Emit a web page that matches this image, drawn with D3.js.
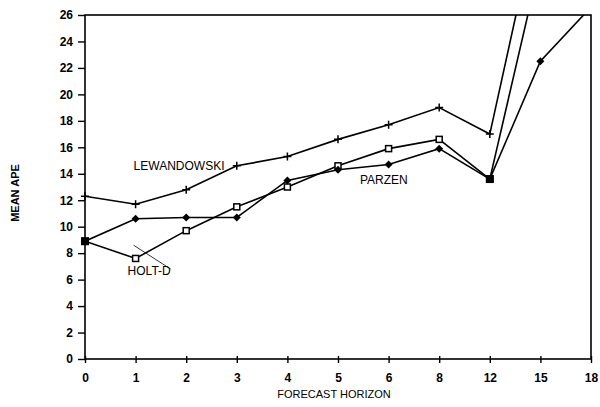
<!DOCTYPE html>
<html>
<head>
<meta charset="utf-8">
<script src="https://cdn.jsdelivr.net/npm/d3@7"></script>
<style>
  html, body { margin: 0; padding: 0; background: #fff; overflow: hidden; }
  svg { display: block; font-family: 'Liberation Sans', Arial, sans-serif; }
</style>
</head>
<body>
<svg id="chart" width="600" height="407"></svg>
<script>
// horizons (categorical, evenly spaced)
const horizons = ['0', '1', '2', '3', '4', '5', '6', '8', '12', '15', '18'];
const yTicks = [0, 2, 4, 6, 8, 10, 12, 14, 16, 18, 20, 22, 24, 26];

// mean APE values (values above 26 run off the top)
const lewandowski = [12.3, 11.7, 12.8, 14.6, 15.3, 16.6, 17.7, 19.0, 17.0, 34.4, null];
const holtD       = [8.9, 7.6, 9.7, 11.5, 13.0, 14.6, 15.9, 16.6, 13.6, 30.1, null];
const parzen      = [8.9, 10.6, 10.7, 10.7, 13.5, 14.3, 14.7, 15.9, 13.6, 22.5, 26.6];

const svg = d3.select('#chart');
const margin = { top: 15, right: 9, bottom: 48, left: 85 };
const width = 600, height = 407;
const innerWidth = width - margin.left - margin.right;
const innerHeight = height - margin.top - margin.bottom;

const g = svg.append('g')
  .attr('transform', `translate(${margin.left},${margin.top})`);

const xScale = d3.scalePoint()
  .domain(horizons)
  .range([0, innerWidth]);

const yScale = d3.scaleLinear()
  .domain([0, 26])
  .range([innerHeight, 0]);

// clip so the lines leave through the top edge
svg.append('defs').append('clipPath')
  .attr('id', 'plotclip')
  .append('rect')
  .attr('width', innerWidth)
  .attr('height', innerHeight);

// frame
g.append('rect')
  .attr('width', innerWidth)
  .attr('height', innerHeight)
  .attr('fill', 'none')
  .attr('stroke', '#000')
  .attr('stroke-width', 1.6);

// X axis
const xAxis = g.append('g')
  .attr('transform', `translate(0,${innerHeight})`)
  .call(d3.axisBottom(xScale).tickSize(4).tickPadding(10));

// Y axis
const yAxis = g.append('g')
  .call(d3.axisLeft(yScale).tickValues(yTicks).tickSize(7).tickPadding(5));

[xAxis, yAxis].forEach(a => {
  a.select('.domain').remove();
  a.selectAll('line').attr('stroke', '#000').attr('stroke-width', 1.4);
  a.selectAll('text')
    .attr('fill', '#000')
    .attr('font-size', '12px')
    .attr('font-weight', 'bold')
    .attr('font-family', "'Liberation Sans', Arial, sans-serif");
});
xAxis.selectAll('line').attr('y1', -3);

// axis titles
svg.append('text')
  .attr('x', margin.left + innerWidth / 2 - 4)
  .attr('y', 398)
  .attr('text-anchor', 'middle')
  .attr('font-size', '11px')
  .text('FORECAST HORIZON');

svg.append('text')
  .attr('transform', 'translate(19,193) rotate(-90)')
  .attr('text-anchor', 'middle')
  .attr('font-size', '11px')
  .attr('font-weight', 'bold')
  .text('MEAN APE');

const line = d3.line()
  .defined(d => d.v !== null)
  .x(d => xScale(d.h))
  .y(d => yScale(d.v));

const toPoints = vals => horizons.map((h, i) => ({ h, v: vals[i] }));

const series = [
  { name: 'LEWANDOWSKI', values: lewandowski, marker: 'plus' },
  { name: 'HOLT-D', values: holtD, marker: 'square' },
  { name: 'PARZEN', values: parzen, marker: 'diamond' }
];

const plot = g.append('g').attr('clip-path', 'url(#plotclip)');
const marks = g.append('g');

series.forEach(s => {
  const pts = toPoints(s.values);
  plot.append('path')
    .datum(pts)
    .attr('fill', 'none')
    .attr('stroke', '#000')
    .attr('stroke-width', 1.6)
    .attr('d', line);

  const visible = pts.filter(d => d.v !== null && d.v <= 26);
  const m = marks.selectAll(null)
    .data(visible)
    .enter()
    .append('g')
    .attr('transform', d => `translate(${xScale(d.h)},${yScale(d.v)})`);

  if (s.marker === 'plus') {
    m.append('path')
      .attr('d', 'M-4,0H4M0,-4V4')
      .attr('stroke', '#000')
      .attr('stroke-width', 1.5);
  } else if (s.marker === 'square') {
    m.append('rect')
      .attr('x', -3).attr('y', -3)
      .attr('width', 6).attr('height', 6)
      .attr('fill', '#fff')
      .attr('stroke', '#000')
      .attr('stroke-width', 1.5);
  } else {
    m.append('path')
      .attr('d', 'M0,-4L4,0L0,4L-4,0Z')
      .attr('fill', '#000');
  }
});

// where Holt-D and Parzen coincide the marker appears as a solid block
marks.selectAll(null)
  .data(horizons.filter((h, i) => Math.abs(holtD[i] - parzen[i]) < 0.05))
  .enter()
  .append('rect')
  .attr('x', d => xScale(d) - 4)
  .attr('y', d => yScale(parzen[horizons.indexOf(d)]) - 4)
  .attr('width', 8)
  .attr('height', 8)
  .attr('fill', '#000');

// series labels
const labelFont = { size: '12px' };
g.append('text')
  .attr('x', xScale('1') - 2)
  .attr('y', yScale(14.6) + 4)
  .attr('font-size', labelFont.size)
  .text('LEWANDOWSKI');

g.append('text')
  .attr('x', xScale('5') + 22)
  .attr('y', yScale(13.6) + 5)
  .attr('font-size', labelFont.size)
  .text('PARZEN');

g.append('text')
  .attr('x', xScale('1') - 8)
  .attr('y', yScale(6.7) + 5)
  .attr('font-size', labelFont.size)
  .text('HOLT-D');

// leader line to the Holt-D curve
g.append('line')
  .attr('x1', xScale('1') - 2)
  .attr('y1', yScale(8.6))
  .attr('x2', xScale('1') + 35)
  .attr('y2', yScale(6.8))
  .attr('stroke', '#000')
  .attr('stroke-width', 0.8);
</script>
</body>
</html>
